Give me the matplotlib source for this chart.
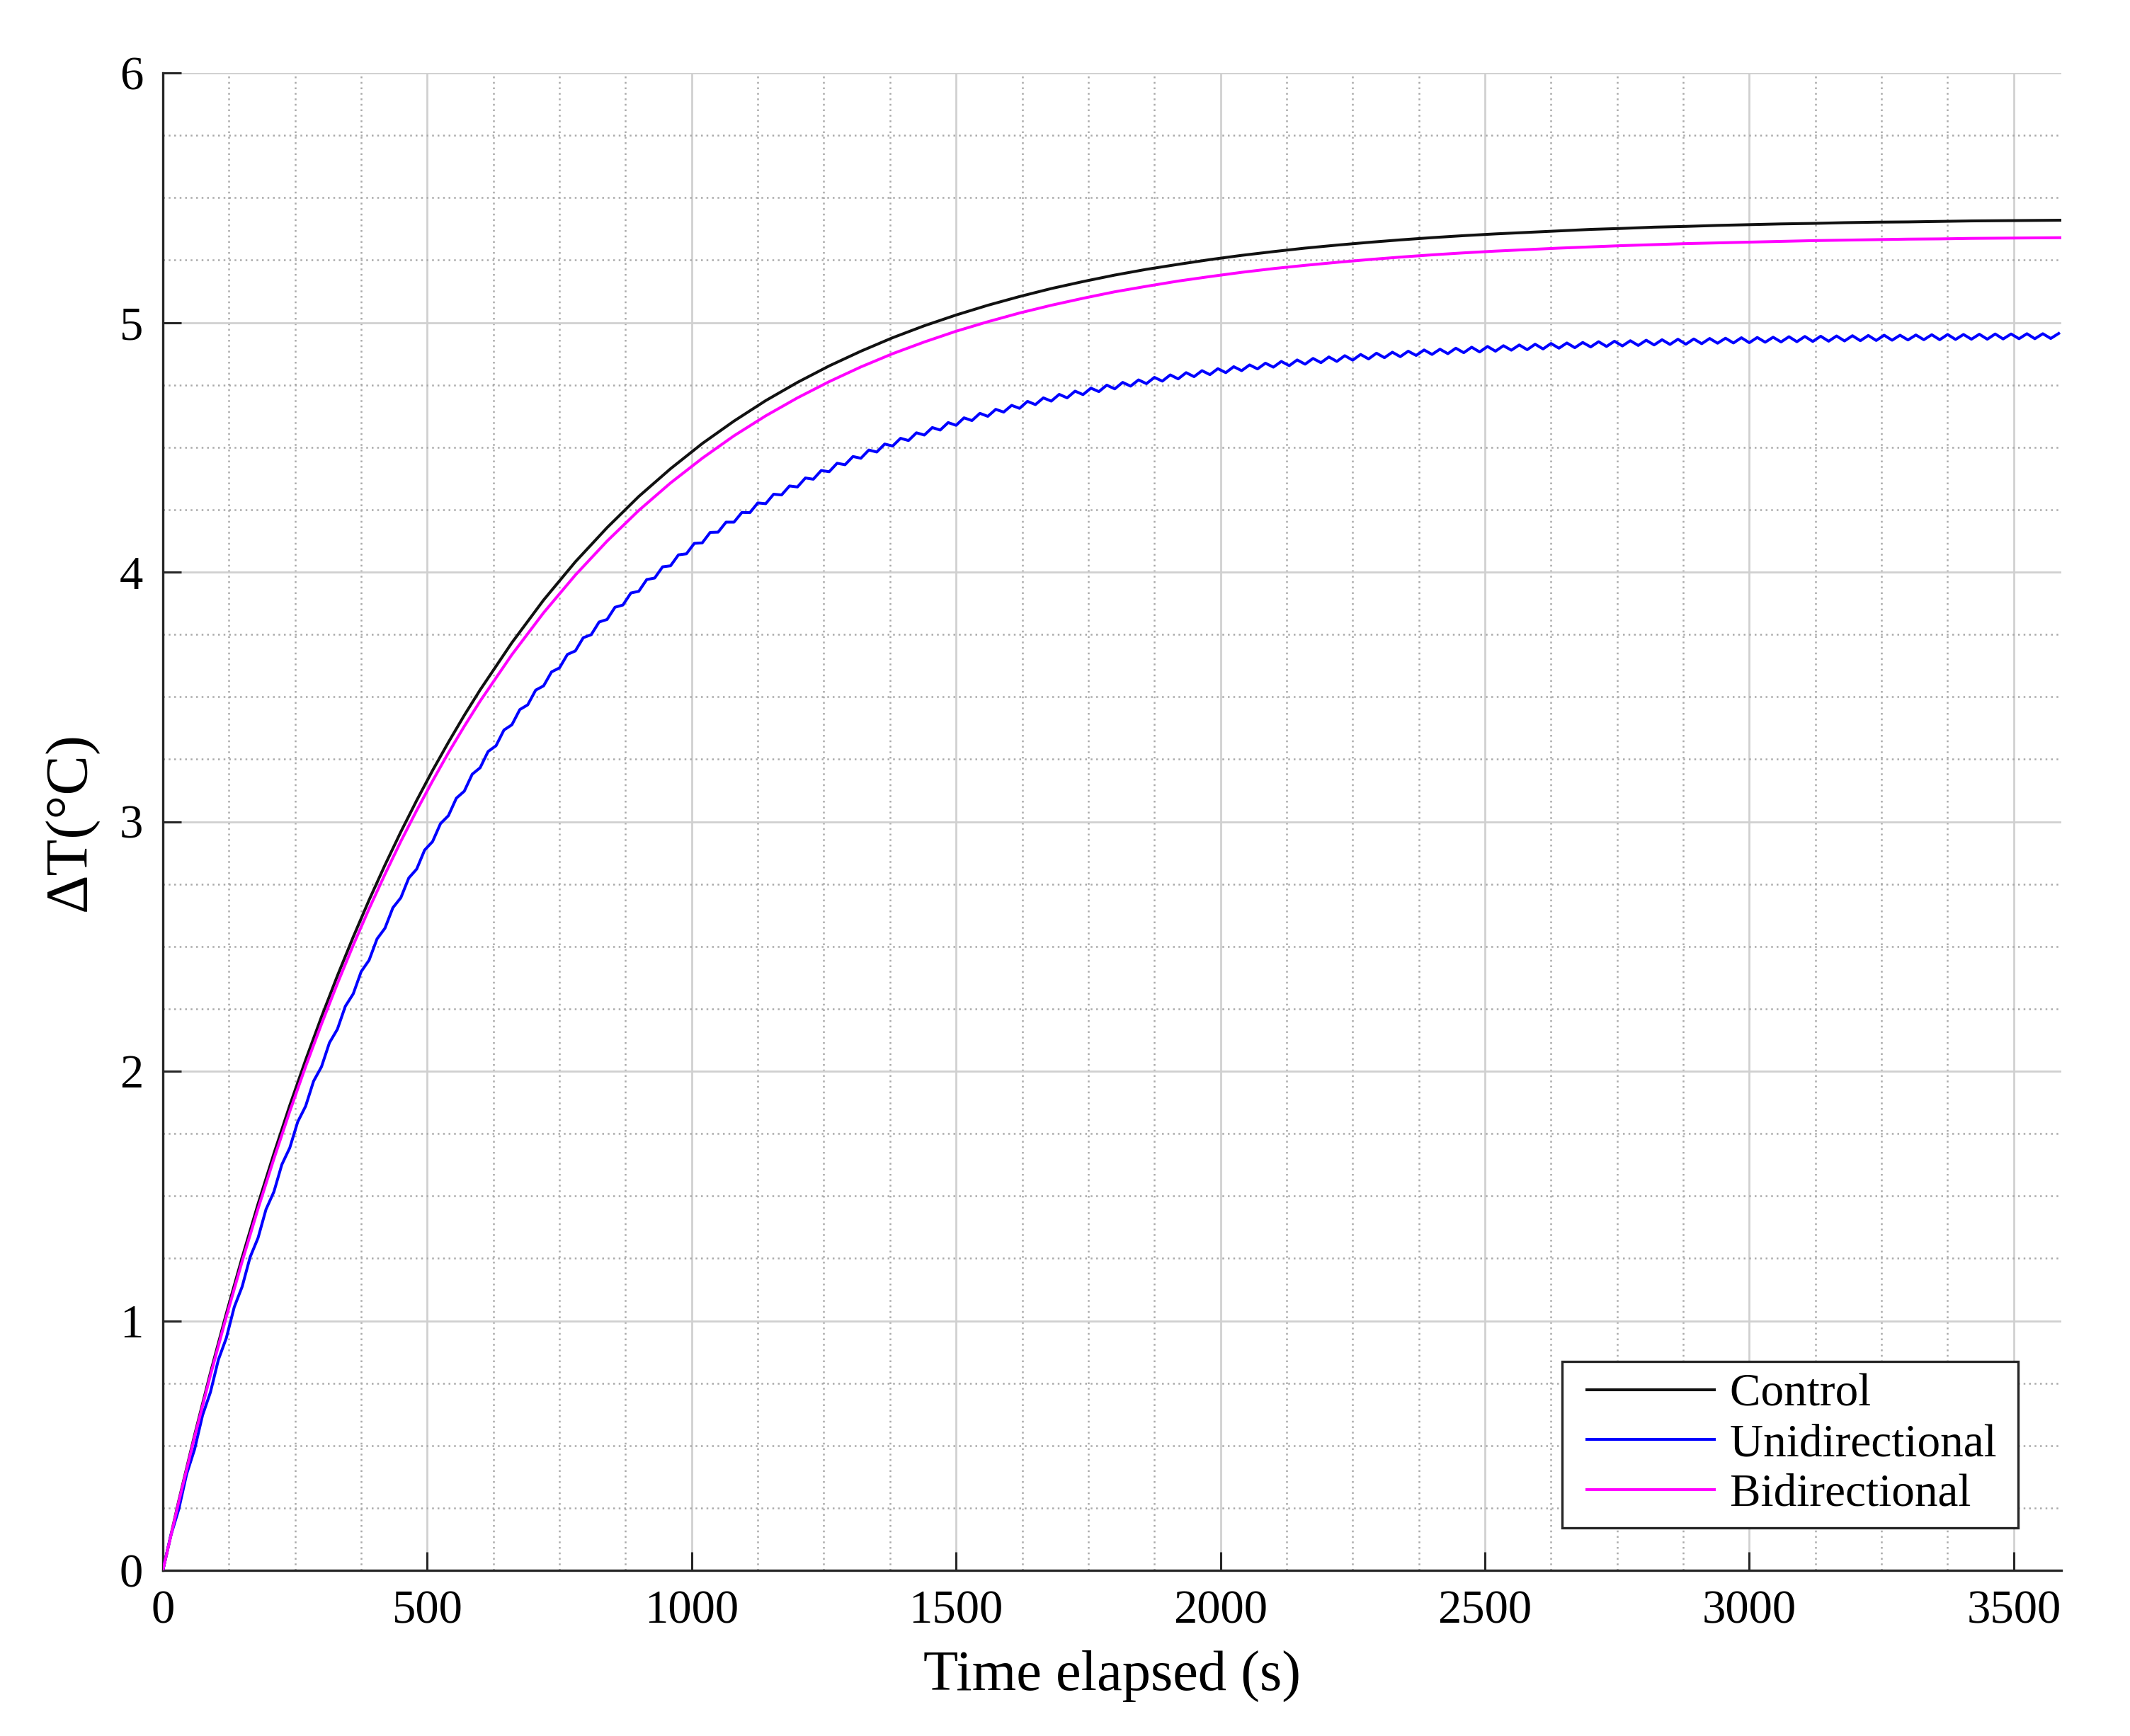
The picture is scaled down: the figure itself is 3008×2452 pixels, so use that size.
import numpy as np
import matplotlib
matplotlib.use("Agg")
import matplotlib.pyplot as plt
from matplotlib.ticker import MultipleLocator
from matplotlib.legend_handler import HandlerLine2D
from matplotlib.lines import Line2D

# ---------------- data ----------------
t_smooth = [0, 30, 60, 90, 120, 150, 180, 210, 240, 270, 300, 330, 360, 390, 420,
            450, 480, 510, 540, 570, 600, 660, 720, 780, 840, 900, 960, 1020, 1080,
            1140, 1200, 1260, 1320, 1380, 1440, 1500, 1560, 1620, 1680, 1740, 1800,
            1860, 1920, 1980, 2040, 2100, 2160, 2220, 2280, 2340, 2400, 2460, 2520,
            2580, 2640, 2700, 2760, 2820, 2880, 2940, 3000, 3060, 3120, 3180, 3240,
            3300, 3360, 3420, 3480, 3540, 3600]

control = [0.000, 0.278, 0.542, 0.792, 1.029, 1.254, 1.468, 1.670, 1.863, 2.045,
           2.218, 2.382, 2.538, 2.686, 2.826, 2.959, 3.085, 3.205, 3.318, 3.426,
           3.528, 3.717, 3.888, 4.041, 4.178, 4.303, 4.414, 4.515, 4.605, 4.687,
           4.760, 4.826, 4.885, 4.939, 4.987, 5.030, 5.069, 5.104, 5.136, 5.164,
           5.190, 5.213, 5.233, 5.252, 5.269, 5.284, 5.298, 5.310, 5.321, 5.331,
           5.340, 5.348, 5.355, 5.361, 5.367, 5.373, 5.377, 5.382, 5.385, 5.389,
           5.392, 5.395, 5.397, 5.400, 5.402, 5.403, 5.405, 5.407, 5.408, 5.409,
           5.410]

bidirectional = [0.000, 0.274, 0.535, 0.782, 1.016, 1.238, 1.449, 1.649, 1.839, 2.019,
                 2.189, 2.351, 2.505, 2.651, 2.789, 2.921, 3.045, 3.163, 3.276, 3.382,
                 3.483, 3.669, 3.837, 3.988, 4.124, 4.247, 4.357, 4.456, 4.546, 4.626,
                 4.698, 4.763, 4.822, 4.875, 4.922, 4.965, 5.003, 5.038, 5.069, 5.097,
                 5.123, 5.145, 5.166, 5.184, 5.201, 5.216, 5.229, 5.241, 5.252, 5.262,
                 5.271, 5.279, 5.286, 5.292, 5.298, 5.303, 5.308, 5.312, 5.316, 5.319,
                 5.322, 5.325, 5.328, 5.330, 5.332, 5.334, 5.335, 5.337, 5.338, 5.339,
                 5.340]

# unidirectional: sampled every 15 s (0 ... 3585 s), shows a small periodic ripple
t_uni = np.arange(0, 3600, 15)
unidirectional = [
    0.000, 0.139, 0.244, 0.386, 0.485, 0.621, 0.714, 0.844,
    0.931, 1.055, 1.137, 1.255, 1.332, 1.446, 1.517, 1.626,
    1.693, 1.797, 1.860, 1.960, 2.018, 2.114, 2.168, 2.260,
    2.310, 2.399, 2.445, 2.530, 2.573, 2.655, 2.695, 2.774,
    2.810, 2.886, 2.920, 2.992, 3.024, 3.094, 3.122, 3.190,
    3.216, 3.281, 3.304, 3.367, 3.388, 3.449, 3.468, 3.527,
    3.544, 3.600, 3.616, 3.670, 3.684, 3.737, 3.749, 3.800,
    3.810, 3.859, 3.868, 3.916, 3.923, 3.970, 3.976, 4.021,
    4.025, 4.069, 4.073, 4.115, 4.117, 4.159, 4.160, 4.200,
    4.200, 4.239, 4.238, 4.277, 4.274, 4.312, 4.309, 4.345,
    4.341, 4.377, 4.372, 4.407, 4.402, 4.436, 4.430, 4.463,
    4.456, 4.489, 4.481, 4.513, 4.505, 4.536, 4.527, 4.558,
    4.549, 4.579, 4.569, 4.599, 4.588, 4.618, 4.607, 4.636,
    4.624, 4.652, 4.641, 4.668, 4.656, 4.684, 4.671, 4.698,
    4.685, 4.712, 4.698, 4.725, 4.711, 4.737, 4.723, 4.749,
    4.734, 4.760, 4.745, 4.770, 4.755, 4.780, 4.765, 4.790,
    4.774, 4.799, 4.783, 4.807, 4.791, 4.815, 4.799, 4.823,
    4.807, 4.830, 4.814, 4.837, 4.821, 4.844, 4.827, 4.850,
    4.833, 4.856, 4.839, 4.862, 4.844, 4.867, 4.849, 4.872,
    4.854, 4.877, 4.859, 4.881, 4.863, 4.885, 4.868, 4.890,
    4.872, 4.893, 4.875, 4.897, 4.879, 4.901, 4.882, 4.904,
    4.885, 4.907, 4.889, 4.910, 4.891, 4.913, 4.894, 4.916,
    4.897, 4.918, 4.899, 4.920, 4.902, 4.923, 4.904, 4.925,
    4.906, 4.927, 4.908, 4.929, 4.910, 4.931, 4.912, 4.933,
    4.913, 4.934, 4.915, 4.936, 4.917, 4.937, 4.918, 4.939,
    4.919, 4.940, 4.921, 4.941, 4.922, 4.943, 4.923, 4.944,
    4.924, 4.945, 4.925, 4.946, 4.926, 4.947, 4.927, 4.948,
    4.928, 4.949, 4.929, 4.949, 4.930, 4.950, 4.931, 4.951,
    4.931, 4.952, 4.932, 4.952, 4.933, 4.953, 4.933, 4.954,
    4.934, 4.954, 4.935, 4.955, 4.935, 4.955, 4.936, 4.956,
]

series_names = ["Control", "Unidirectional", "Bidirectional"]
x_ticks = [0, 500, 1000, 1500, 2000, 2500, 3000, 3500]
y_ticks = [0, 1, 2, 3, 4, 5, 6]

# ---------------- figure ----------------
plt.rcParams['font.family'] = ['Liberation Serif', 'DejaVu Serif']

W, H, DPI = 3008, 2452, 200
fig = plt.figure(figsize=(W / DPI, H / DPI), dpi=DPI)
ax = fig.add_axes([230 / W, 1 - 2218 / H, (2911 - 230) / W, (2218 - 103) / H])

LW = 1.45
pad_space = "\u2009"
ax.plot(t_smooth, control, color='#111111', lw=LW, label=series_names[0] + pad_space, zorder=3)
ax.plot(t_uni, unidirectional, color='#0000ff', lw=LW, label=series_names[1] + pad_space, zorder=3)
ax.plot(t_smooth, bidirectional, color='#ff00ff', lw=LW, label=series_names[2] + pad_space, zorder=3)

ax.set_xlim(0, 3590)
ax.set_ylim(0, 6)
ax.set_xticks(x_ticks)
ax.set_yticks(y_ticks)
ax.xaxis.set_minor_locator(MultipleLocator(125))
ax.yaxis.set_minor_locator(MultipleLocator(0.25))

ax.grid(which='major', color='#d0d0d0', lw=1.0, ls='-', zorder=0)
ax.grid(which='minor', color='#aaaaaa', lw=0.9, ls=(0, (1.0, 2.1)), zorder=0)
ax.set_axisbelow(True)

for s in ['top', 'right']:
    ax.spines[s].set_visible(False)
for s in ['left', 'bottom']:
    ax.spines[s].set_color('#262626')
    ax.spines[s].set_linewidth(1.2)

ax.tick_params(which='major', direction='in', length=9.5, width=1.1, color='#262626',
               labelsize=24, pad=10, top=False, right=False)
ax.tick_params(which='minor', length=0, top=False, right=False)

ax.set_xlabel('Time elapsed (s)', fontsize=29)
ax.set_ylabel('ΔT(°C)', fontsize=30.5)
ax.xaxis.set_label_coords(0.5, -0.0534)
ax.yaxis.set_label_coords(-0.034, 0.5)

handler = HandlerLine2D(xpad=0.27)
leg = ax.legend(loc='lower right', bbox_to_anchor=(0.9773, 0.0284), borderaxespad=0,
                fontsize=23.5, frameon=True, fancybox=False, edgecolor='#262626',
                handlelength=3.03, handletextpad=0.34, labelspacing=0.17,
                borderpad=0.26, handler_map={Line2D: handler})
leg.get_frame().set_linewidth(1.2)
leg.get_frame().set_alpha(1)

fig.savefig('out.png', dpi=DPI, facecolor='white')
